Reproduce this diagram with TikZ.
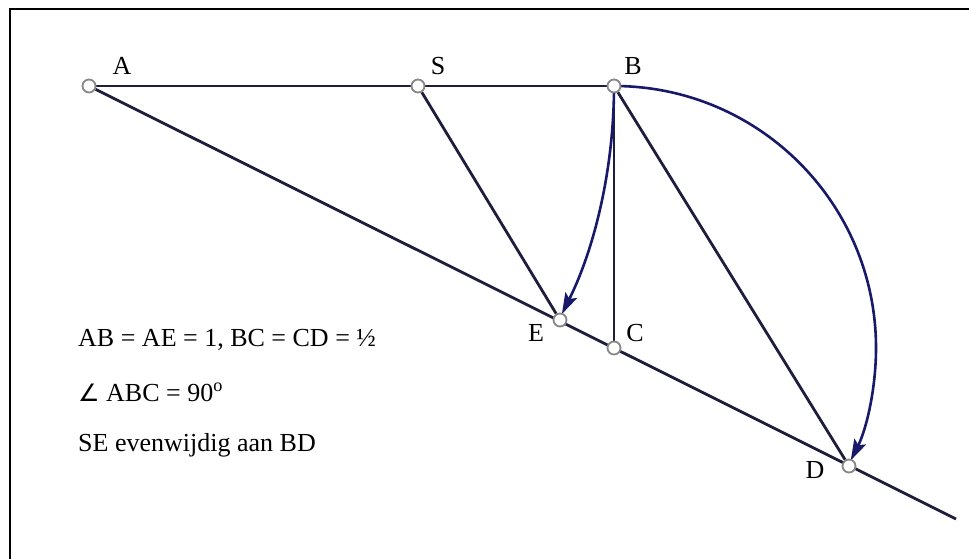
\documentclass[tikz,border=0pt]{standalone}
\usepackage{fontspec}
\setmainfont{Liberation Serif}
\newfontfamily\symfont{DejaVu Sans}
\usetikzlibrary{arrows.meta, backgrounds}

\definecolor{lijn}{RGB}{30,30,60}
\definecolor{boog}{RGB}{25,25,105}
\definecolor{rand}{RGB}{135,135,135}

\begin{document}
\begin{tikzpicture}[
    x=1pt, y=-1pt,
    seg/.style={draw=lijn, line width=2.8pt},
    bow/.style={draw=boog, line width=2.6pt, -{Stealth[length=21pt, width=13pt, inset=4pt]}, shorten >=6pt},
    pnt/.style={draw=rand, fill=white, circle, inner sep=0pt, minimum size=13pt, line width=1.8pt},
    ptname/.style={font=\fontsize{26}{30}\selectfont, inner sep=0pt},
    info/.style={font=\fontsize{26}{30}\selectfont, anchor=base west, inner sep=0pt}
]
\useasboundingbox (0,0) rectangle (969,559);

% Frame
\draw[line width=2pt] (10,559) -- (10,9) -- (969,9);

% Points
\node[pnt] (A) at (89,86) {};
\node[pnt] (S) at (418,86) {};
\node[pnt] (B) at (614,86) {};
\node[pnt] (E) at (560,320) {};
\node[pnt] (C) at (614,348) {};
\node[pnt] (D) at (849,466) {};
\coordinate (end) at (956,519);

% Point names
\node[ptname] (nA) at (122,66) {A};
\node[ptname] (nS) at (438,66) {S};
\node[ptname] (nB) at (633,66) {B};
\node[ptname] (nE) at (536,333) {E};
\node[ptname] (nC) at (635,333) {C};
\node[ptname] (nD) at (815,470) {D};

\begin{scope}[on background layer]
% Segments
\draw[seg] (A) -- (B);
\draw[seg] (A) -- (end);
\draw[seg] (S) -- (E);
\draw[seg] (B) -- (C);
\draw[seg] (B) -- (D);

% Arcs
\draw[bow] (B.center) arc[start angle=0, end angle=26.4, radius=525];
\draw[bow] (B.center) arc[start angle=-90, end angle=26.7, radius=262];
\end{scope}

% Text
\node[info] (t1) at (78,346) {AB = AE = 1, BC = CD = ½};
\node[info] (t2) at (78,401) {{\symfont\fontsize{24}{28}\selectfont ∠} ABC = 90\textsuperscript{o}};
\node[info] (t3) at (78,451) {SE evenwijdig aan BD};

\end{tikzpicture}
\end{document}
